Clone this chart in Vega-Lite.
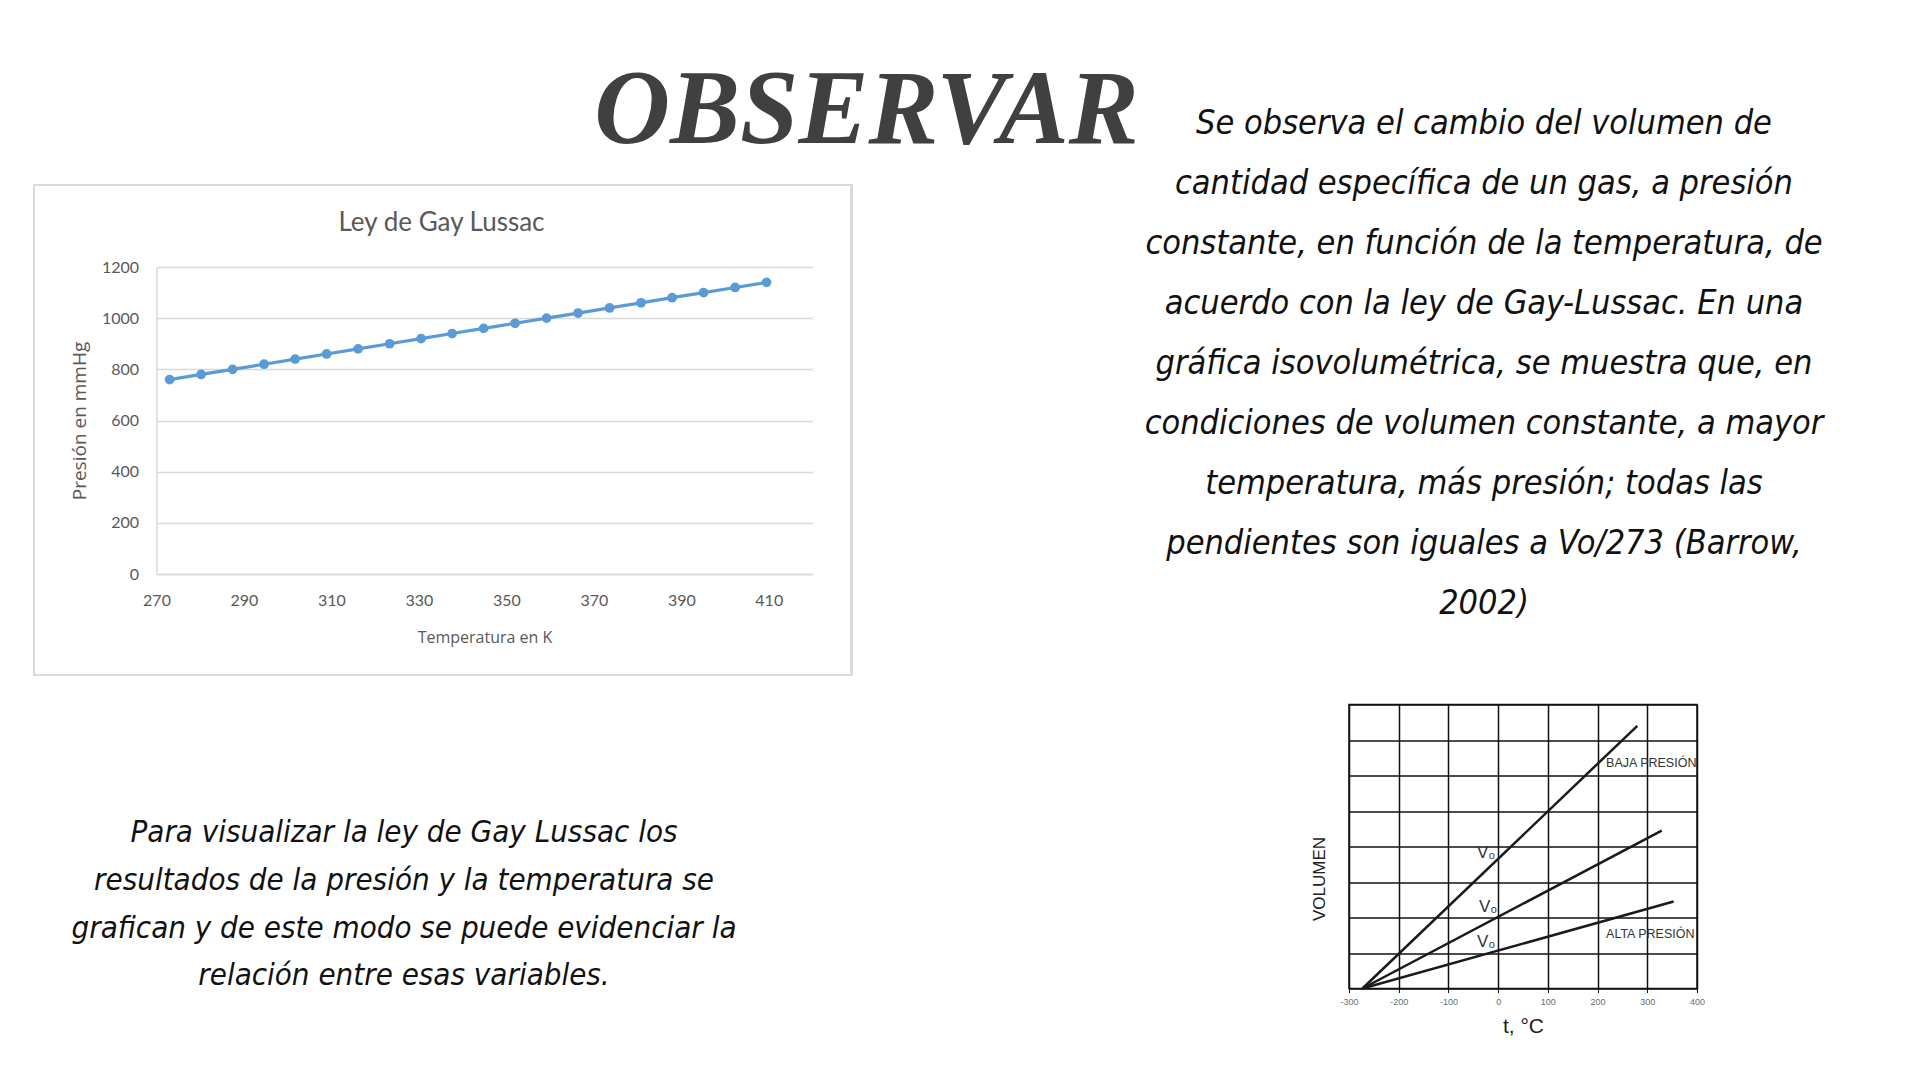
{
  "$schema": "https://vega.github.io/schema/vega-lite/v6.json",
  "background": "white",
  "autosize": {"type": "pad"},
  "padding": {"left": 32.5, "top": 58.5, "right": 10, "bottom": 10},
  "config": {"view": {"stroke": null}},
  "bounds": "flush",
  "spacing": 1192.5,
  "hconcat": [
    {
      "bounds": "flush",
      "spacing": 163.5,
      "vconcat": [
        {
          "width": 656,
          "height": 11.5,
          "data": {"values": [{"t": "OBSERVAR"}]},
          "mark": {"type": "text", "font": "Liberation Serif", "fontSize": 105, "fontStyle": "italic", "fontWeight": "bold", "color": "#404040", "dx": 382, "dy": 13.25, "baseline": "middle", "align": "center"},
          "encoding": {"text": {"field": "t"}}
        },
        {
          "width": 656,
          "height": 307,
          "title": {"text": "Ley de Gay Lussac", "font": "Lato", "fontSize": 26, "fontWeight": "normal", "color": "#595959", "anchor": "middle", "offset": -52, "dx": -43},
          "data": {"values": [
            {"T": 273.0, "P": 760}, {"T": 280.2, "P": 780}, {"T": 287.4, "P": 800}, {"T": 294.6, "P": 820},
            {"T": 301.7, "P": 840}, {"T": 308.9, "P": 860}, {"T": 316.1, "P": 880}, {"T": 323.3, "P": 900},
            {"T": 330.5, "P": 920}, {"T": 337.6, "P": 940}, {"T": 344.8, "P": 960}, {"T": 352.0, "P": 980},
            {"T": 359.2, "P": 1000}, {"T": 366.4, "P": 1020}, {"T": 373.6, "P": 1040}, {"T": 380.8, "P": 1060},
            {"T": 387.9, "P": 1080}, {"T": 395.1, "P": 1100}, {"T": 402.3, "P": 1120}, {"T": 409.5, "P": 1140}
          ]},
          "layer": [
            {
              "mark": {"type": "rect", "fill": null, "stroke": "#d9d9d9", "strokeWidth": 1.5, "clip": false},
              "encoding": {
                "x": {"datum": 242, "type": "quantitative"},
                "x2": {"datum": 428.9},
                "y": {"datum": -395, "type": "quantitative"},
                "y2": {"datum": 1520}
              }
            },
            {
              "mark": {"type": "line", "color": "#5b9bd5", "strokeWidth": 3.2},
              "encoding": {
                "x": {"field": "T", "type": "quantitative", "scale": {"domain": [270, 420], "nice": false, "zero": false},
                  "axis": {"title": "Temperatura en K", "values": [270, 290, 310, 330, 350, 370, 390, 410], "format": "d", "labelFlush": false, "grid": false, "domain": true, "domainColor": "#d9d9d9", "domainWidth": 1.5, "ticks": false, "labelFont": "Lato", "labelFontSize": 16, "labelColor": "#595959", "labelPadding": 18, "titleFont": "Open Sans", "titleFontSize": 16, "titleFontWeight": "normal", "titleColor": "#595959", "titlePadding": 21}},
                "y": {"field": "P", "type": "quantitative", "scale": {"domain": [0, 1200], "nice": false},
                  "axis": {"title": "Presión en mmHg", "values": [0, 200, 400, 600, 800, 1000, 1200], "format": "d", "tickCount": 7, "grid": true, "gridColor": "#d9d9d9", "gridWidth": 1.5, "domain": true, "domainColor": "#d9d9d9", "domainWidth": 1.5, "ticks": false, "labelFont": "Lato", "labelFontSize": 16, "labelColor": "#595959", "labelPadding": 18, "titleFont": "Open Sans", "titleFontSize": 19, "titleFontWeight": "normal", "titleColor": "#595959", "titlePadding": 12}}
              }
            },
            {
              "mark": {"type": "point", "filled": true, "shape": "circle", "size": 95, "color": "#5b9bd5", "opacity": 1},
              "encoding": {
                "x": {"field": "T", "type": "quantitative"},
                "y": {"field": "P", "type": "quantitative"}
              }
            }
          ]
        },
        {
          "width": 495,
          "height": 238.75,
          "data": {"values": [
            {"n": 1, "line": "Para visualizar la ley de Gay Lussac los"},
            {"n": 2, "line": "resultados de la presión y la temperatura se"},
            {"n": 3, "line": "grafican y de este modo se puede evidenciar la"},
            {"n": 4, "line": "relación entre esas variables."}
          ]},
          "mark": {"type": "text", "font": "DejaVu Sans Condensed, Roboto", "fontSize": 31, "fontStyle": "italic", "color": "#111111", "baseline": "middle", "align": "center"},
          "encoding": {
            "y": {"field": "n", "type": "ordinal", "axis": null, "scale": {"padding": 1, "align": 1}},
            "text": {"field": "line"}
          }
        }
      ]
    },
    {
      "bounds": "flush",
      "spacing": 73,
      "vconcat": [
        {
          "width": 270,
          "height": 540,
          "data": {"values": [
            {"n": 1, "line": "Se observa el cambio del volumen de"},
            {"n": 2, "line": "cantidad específica de un gas, a presión"},
            {"n": 3, "line": "constante, en función de la temperatura, de"},
            {"n": 4, "line": "acuerdo con la ley de Gay-Lussac. En una"},
            {"n": 5, "line": "gráfica isovolumétrica, se muestra que, en"},
            {"n": 6, "line": "condiciones de volumen constante, a mayor"},
            {"n": 7, "line": "temperatura, más presión; todas las"},
            {"n": 8, "line": "pendientes son iguales a Vo/273 (Barrow,"},
            {"n": 9, "line": "2002)"}
          ]},
          "mark": {"type": "text", "font": "DejaVu Sans Condensed, Roboto", "fontSize": 34, "fontStyle": "italic", "color": "#111111", "baseline": "middle", "align": "center", "dy": 2},
          "encoding": {
            "y": {"field": "n", "type": "ordinal", "axis": null, "scale": {"padding": 0.5}},
            "text": {"field": "line"}
          }
        },
        {
          "width": 348,
          "height": 284,
          "view": {"stroke": "#111111", "strokeWidth": 1.5},
          "layer": [
            {
              "data": {"values": [
                {"serie": "baja", "t": -273, "v": 0}, {"serie": "baja", "t": 280, "v": 7.4},
                {"serie": "media", "t": -273, "v": 0}, {"serie": "media", "t": 329, "v": 4.45},
                {"serie": "alta", "t": -273, "v": 0}, {"serie": "alta", "t": 353, "v": 2.45}
              ]},
              "mark": {"type": "line", "color": "#1a1a1a", "strokeWidth": 2.5},
              "encoding": {
                "x": {"field": "t", "type": "quantitative", "scale": {"domain": [-300, 400], "nice": false, "zero": false},
                  "axis": {"title": "t, °C", "values": [-300, -200, -100, 0, 100, 200, 300, 400], "tickCount": 8, "labelExpr": "'' + datum.value", "labelFlush": false, "grid": true, "gridColor": "#111111", "gridWidth": 1.5, "gridOpacity": 1, "domain": false, "ticks": true, "tickColor": "#111111", "tickSize": 4, "labelFont": "Liberation Sans", "labelFontSize": 9, "labelColor": "#5f7070", "labelPadding": 5, "titleFont": "Liberation Sans", "titleFontSize": 21, "titleFontWeight": "normal", "titleColor": "#222222", "titlePadding": 9}},
                "y": {"field": "v", "type": "quantitative", "scale": {"domain": [0, 8], "nice": false},
                  "axis": {"title": "VOLUMEN", "values": [0, 1, 2, 3, 4, 5, 6, 7, 8], "tickCount": 9, "grid": true, "gridColor": "#111111", "gridWidth": 1.5, "gridOpacity": 1, "domain": false, "ticks": false, "labels": false, "titleFont": "Liberation Sans", "titleFontSize": 17, "titleFontWeight": "normal", "titleColor": "#222222", "titlePadding": 21, "titleY": 174}},
                "detail": {"field": "serie"}
              }
            },
            {
              "data": {"values": [
                {"label": "BAJA PRESIÓN", "t": 308, "v": 6.34},
                {"label": "ALTA PRESIÓN", "t": 306, "v": 1.54}
              ]},
              "mark": {"type": "text", "font": "Liberation Sans", "fontSize": 12.5, "color": "#333333", "baseline": "middle", "align": "center"},
              "encoding": {
                "x": {"field": "t", "type": "quantitative"},
                "y": {"field": "v", "type": "quantitative"},
                "text": {"field": "label"}
              }
            },
            {
              "data": {"values": [
                {"label": "V₀", "t": -24, "v": 3.82},
                {"label": "V₀", "t": -20, "v": 2.3},
                {"label": "V₀", "t": -24, "v": 1.3}
              ]},
              "mark": {"type": "text", "font": "Liberation Sans", "fontSize": 17, "color": "#333333", "baseline": "middle", "align": "center"},
              "encoding": {
                "x": {"field": "t", "type": "quantitative"},
                "y": {"field": "v", "type": "quantitative"},
                "text": {"field": "label"}
              }
            }
          ]
        }
      ]
    }
  ]
}
